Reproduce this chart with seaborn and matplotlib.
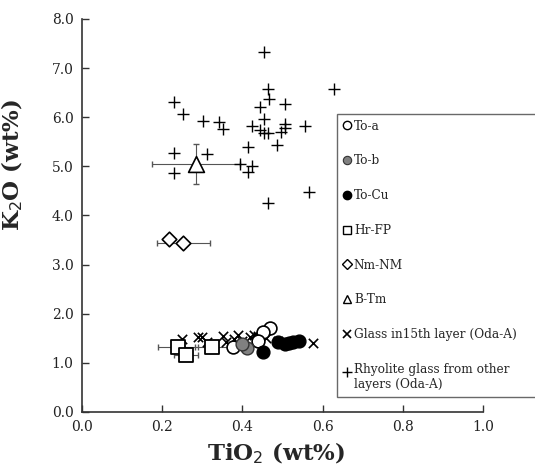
import matplotlib
matplotlib.use("Agg")
import matplotlib.pyplot as plt
import seaborn as sns
import pandas as pd
from matplotlib.lines import Line2D
from matplotlib.legend_handler import HandlerLine2D

# ---- data ----
rhy_x = [0.455, 0.629, 0.465, 0.467, 0.444, 0.507, 0.230, 0.251, 0.301, 0.342, 0.352,
         0.455, 0.424, 0.444, 0.454, 0.465, 0.507, 0.507, 0.496, 0.557, 0.486, 0.413,
         0.230, 0.311, 0.394, 0.423, 0.413, 0.230, 0.567, 0.465]
rhy_y = [7.32, 6.57, 6.57, 6.37, 6.21, 6.27, 6.31, 6.07, 5.93, 5.91, 5.76,
         5.97, 5.82, 5.73, 5.68, 5.68, 5.87, 5.78, 5.70, 5.82, 5.43, 5.40,
         5.28, 5.25, 5.05, 5.00, 4.89, 4.86, 4.48, 4.25]

glass_x = [0.249, 0.290, 0.300, 0.311, 0.351, 0.360, 0.390, 0.380, 0.420, 0.430,
           0.440, 0.460, 0.490, 0.500, 0.577, 0.400]
glass_y = [1.48, 1.53, 1.52, 1.43, 1.55, 1.43, 1.57, 1.48, 1.52, 1.57,
           1.55, 1.50, 1.45, 1.40, 1.40, 1.45]

toa_x = [0.377, 0.469, 0.452, 0.440]
toa_y = [1.33, 1.70, 1.62, 1.45]

tob_x = [0.411, 0.400]
tob_y = [1.30, 1.38]

tocu_x = [0.452, 0.505, 0.515, 0.527, 0.540, 0.490]
tocu_y = [1.23, 1.38, 1.40, 1.43, 1.45, 1.42]

hr_x = [0.239, 0.259, 0.323]
hr_y = [1.33, 1.16, 1.32]
hr_xerr = [0.050, 0.030, 0.040]

nm_x = [0.217, 0.253]
nm_y = [3.52, 3.45]
nm_xerr = [0.0, 0.067]

btm_x = [0.284]
btm_y = [5.05]
btm_xerr = [0.110]
btm_yerr = [0.41]

labels = ["To-a", "To-b", "To-Cu", "Hr-FP", "Nm-NM", "B-Tm",
          "Glass in15th layer (Oda-A)",
          "Rhyolite glass from other\nlayers (Oda-A)"]

x_ticks = [0.0, 0.2, 0.4, 0.6, 0.8, 1.0]
y_ticks = [0.0, 1.0, 2.0, 3.0, 4.0, 5.0, 6.0, 7.0, 8.0]

# ---- plot ----
sns.set_style("white")
plt.rcParams['font.family'] = ['DejaVu Serif']

fig = plt.figure(figsize=(5.35, 4.71), dpi=100)
ax = fig.add_axes([0.1533, 0.1253, 0.7495, 0.8344])

ecol = "#555555"
ax.errorbar(hr_x, hr_y, xerr=hr_xerr, fmt="none", ecolor=ecol, elinewidth=0.8, capsize=2, zorder=1)
ax.errorbar(nm_x[1:], nm_y[1:], xerr=nm_xerr[1:], fmt="none", ecolor=ecol, elinewidth=0.8, capsize=2, zorder=1)
ax.errorbar(btm_x, btm_y, xerr=btm_xerr, yerr=btm_yerr, fmt="none", ecolor=ecol, elinewidth=0.8, capsize=2, zorder=1)

sns.scatterplot(x=rhy_x, y=rhy_y, marker="+", s=65, color="black", linewidth=1.0, ax=ax, zorder=2)
sns.scatterplot(x=glass_x, y=glass_y, marker="x", s=45, color="black", linewidth=1.2, ax=ax, zorder=2)
sns.scatterplot(x=hr_x, y=hr_y, marker="s", s=100, facecolor="white", edgecolor="black", linewidth=1.3, ax=ax, zorder=3)
sns.scatterplot(x=nm_x, y=nm_y, marker="D", s=55, facecolor="white", edgecolor="black", linewidth=1.2, ax=ax, zorder=3)
sns.scatterplot(x=btm_x, y=btm_y, marker="^", s=130, facecolor="white", edgecolor="black", linewidth=1.2, ax=ax, zorder=3)
sns.scatterplot(x=toa_x, y=toa_y, marker="o", s=85, facecolor="white", edgecolor="black", linewidth=1.2, ax=ax, zorder=3)
sns.scatterplot(x=tob_x, y=tob_y, marker="o", s=85, facecolor="#808080", edgecolor="#333333", linewidth=1.0, ax=ax, zorder=3)
sns.scatterplot(x=tocu_x, y=tocu_y, marker="o", s=85, facecolor="black", edgecolor="black", linewidth=1.0, ax=ax, zorder=3)

ax.set_xlim(0, 1.0)
ax.set_ylim(0, 8.0)
ax.set_xticks(x_ticks)
ax.set_yticks(y_ticks)
ax.set_xticklabels([f"{v:.1f}" for v in x_ticks], fontsize=10, color="#222222")
ax.set_yticklabels([f"{v:.1f}" for v in y_ticks], fontsize=10, color="#222222")
ax.tick_params(bottom=True, left=True, direction="in", length=5, width=1.0, color="#333333", pad=6)
for s in ["top", "right"]:
    ax.spines[s].set_visible(False)
for s in ["left", "bottom"]:
    ax.spines[s].set_color("#333333")
    ax.spines[s].set_linewidth(1.2)

ax.set_xlabel("TiO$_2$ (wt%)", fontsize=16.5, fontweight="bold")
ax.set_ylabel("K$_2$O (wt%)", fontsize=16.5, fontweight="bold")
ax.xaxis.set_label_coords(0.484, -0.072)
ax.yaxis.set_label_coords(-0.142, 0.63)


class ShiftedHandler(HandlerLine2D):
    def __init__(self, shift, **kw):
        super().__init__(**kw)
        self.shift = shift

    def create_artists(self, legend, orig_handle, xdescent, ydescent, width, height, fontsize, trans):
        return super().create_artists(legend, orig_handle, xdescent, ydescent - self.shift,
                                      width, height, fontsize, trans)


handles = [
    Line2D([], [], marker="o", ls="none", mfc="white", mec="black", ms=6, mew=1.0),
    Line2D([], [], marker="o", ls="none", mfc="#808080", mec="#333333", ms=6, mew=0.8),
    Line2D([], [], marker="o", ls="none", mfc="black", mec="black", ms=6),
    Line2D([], [], marker="s", ls="none", mfc="white", mec="black", ms=6, mew=1.0),
    Line2D([], [], marker="D", ls="none", mfc="white", mec="black", ms=5, mew=1.0),
    Line2D([], [], marker="^", ls="none", mfc="white", mec="black", ms=6, mew=1.0),
    Line2D([], [], marker="x", ls="none", color="black", ms=6, mew=1.2),
    Line2D([], [], marker="+", ls="none", color="black", ms=7, mew=1.0),
]
x0 = 337 / 535
leg = fig.legend(handles, labels, loc="upper left",
                 bbox_to_anchor=(x0, 1 - 114 / 471, 1.02 - x0, 0.001), mode="expand",
                 fontsize=8.7, frameon=True, fancybox=False, edgecolor="#444444",
                 handlelength=0.6, handletextpad=0.3, labelspacing=1.8,
                 borderpad=0.5, borderaxespad=0,
                 handler_map={handles[-1]: ShiftedHandler(8)})
leg.get_frame().set_linewidth(1.0)

fig.savefig("out.png", dpi=100)
